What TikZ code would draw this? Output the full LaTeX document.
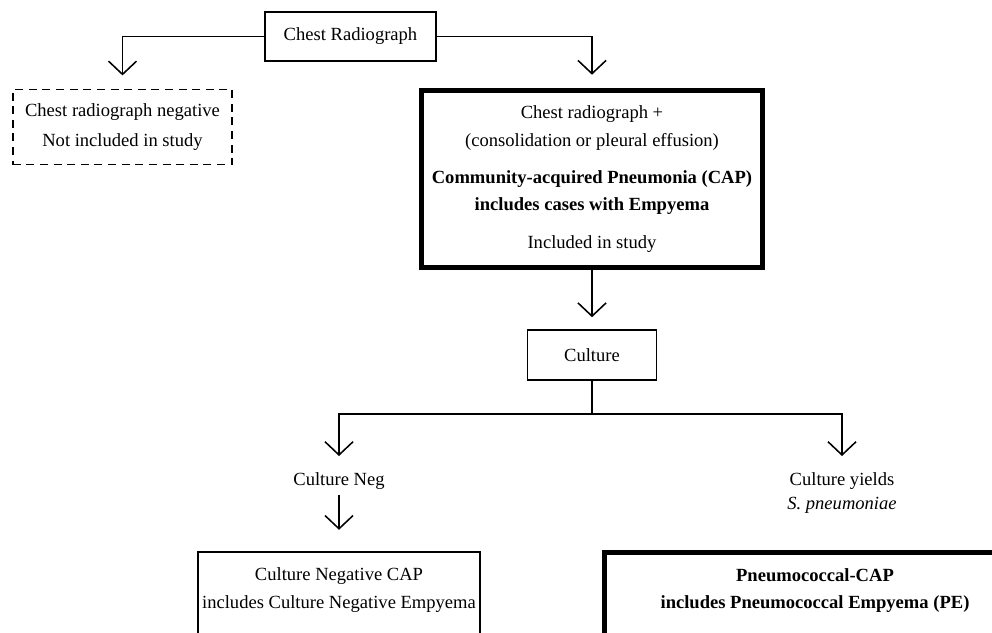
\documentclass[tikz,border=0pt]{standalone}
\usepackage{fontspec}
\setmainfont{Liberation Serif}
\usetikzlibrary{arrows.meta, positioning}

\begin{document}
\begin{tikzpicture}[
    x=0.025cm, y=-0.025cm,
    font=\fontsize{13.2}{19.5}\selectfont,
    % Plain rectangle box
    box/.style={
        rectangle, draw, line width=1.1pt, align=center, inner sep=0pt
    },
    % Excluded (dashed) box
    negbox/.style={
        box, dash pattern=on 0.2cm off 0.14cm
    },
    % Key outcome box (heavy frame)
    keybox/.style={
        box, line width=3.5pt
    },
    % Free text label
    txt/.style={align=center},
    % Open V arrow
    arr/.style={
        -{Straight Barb[length=0.33cm, width=0.7cm]}, line width=1.1pt
    }
]
    \useasboundingbox (0,0) rectangle (992,632);
    \clip (0,0) rectangle (992,632);

    % =========================================================================
    % Screening
    % =========================================================================
    \node[box, minimum width=4.28cm, minimum height=1.23cm] (cr) at (350.5,36.5) {Chest Radiograph};

    \node[negbox, minimum width=5.48cm, minimum height=1.88cm] (neg) at (122.5,127) {%
        Chest radiograph negative\\[2pt]
        Not included in study
    };

    \node[keybox, minimum width=8.53cm, minimum height=4.43cm] (cap) at (592,179) {%
        Chest radiograph +\\
        (consolidation or pleural effusion)\\[7pt]
        \textbf{Community-acquired Pneumonia (CAP)}\\
        \textbf{includes cases with Empyema}\\[7pt]
        Included in study
    };

    % =========================================================================
    % Culture
    % =========================================================================
    \node[box, minimum width=3.23cm, minimum height=1.25cm] (culture) at (592,355) {Culture};

    \node[txt, anchor=north] (cneg) at (339,468) {Culture Neg};
    \node[txt, anchor=north] (cyes) at (842,468) {Culture yields\\[-3pt]\textit{S. pneumoniae}};

    \node[box, minimum width=7.05cm, anchor=north, inner ysep=0.4cm, text depth=3cm] (cnegcap) at (339,551) {%
        Culture Negative CAP\\
        includes Culture Negative Empyema
    };

    \node[keybox, minimum width=10.5cm, anchor=north, inner ysep=0.4cm, text depth=3cm] (pcap) at (815,550) {%
        \textbf{Pneumococcal-CAP}\\
        \textbf{includes Pneumococcal Empyema (PE)}
    };

    % =========================================================================
    % Connectors
    % =========================================================================
    \draw[arr, shorten >=0.33cm] (cr.west) -| (neg.north);
    \draw[arr, shorten >=0.33cm] (cr.east) -| (cap.north);
    \draw[arr, shorten >=0.3cm] (cap.south) -- (culture.north);

    \draw[line width=1.1pt] (culture.south) -- ++(0,33) coordinate (split);
    \draw[arr, shorten >=0.3cm] (split) -| (cneg.north);
    \draw[arr, shorten >=0.3cm] (split) -| (cyes.north);
    \draw[arr, shorten >=0.53cm] (cneg.south) -- (cnegcap.north);

\end{tikzpicture}
\end{document}
